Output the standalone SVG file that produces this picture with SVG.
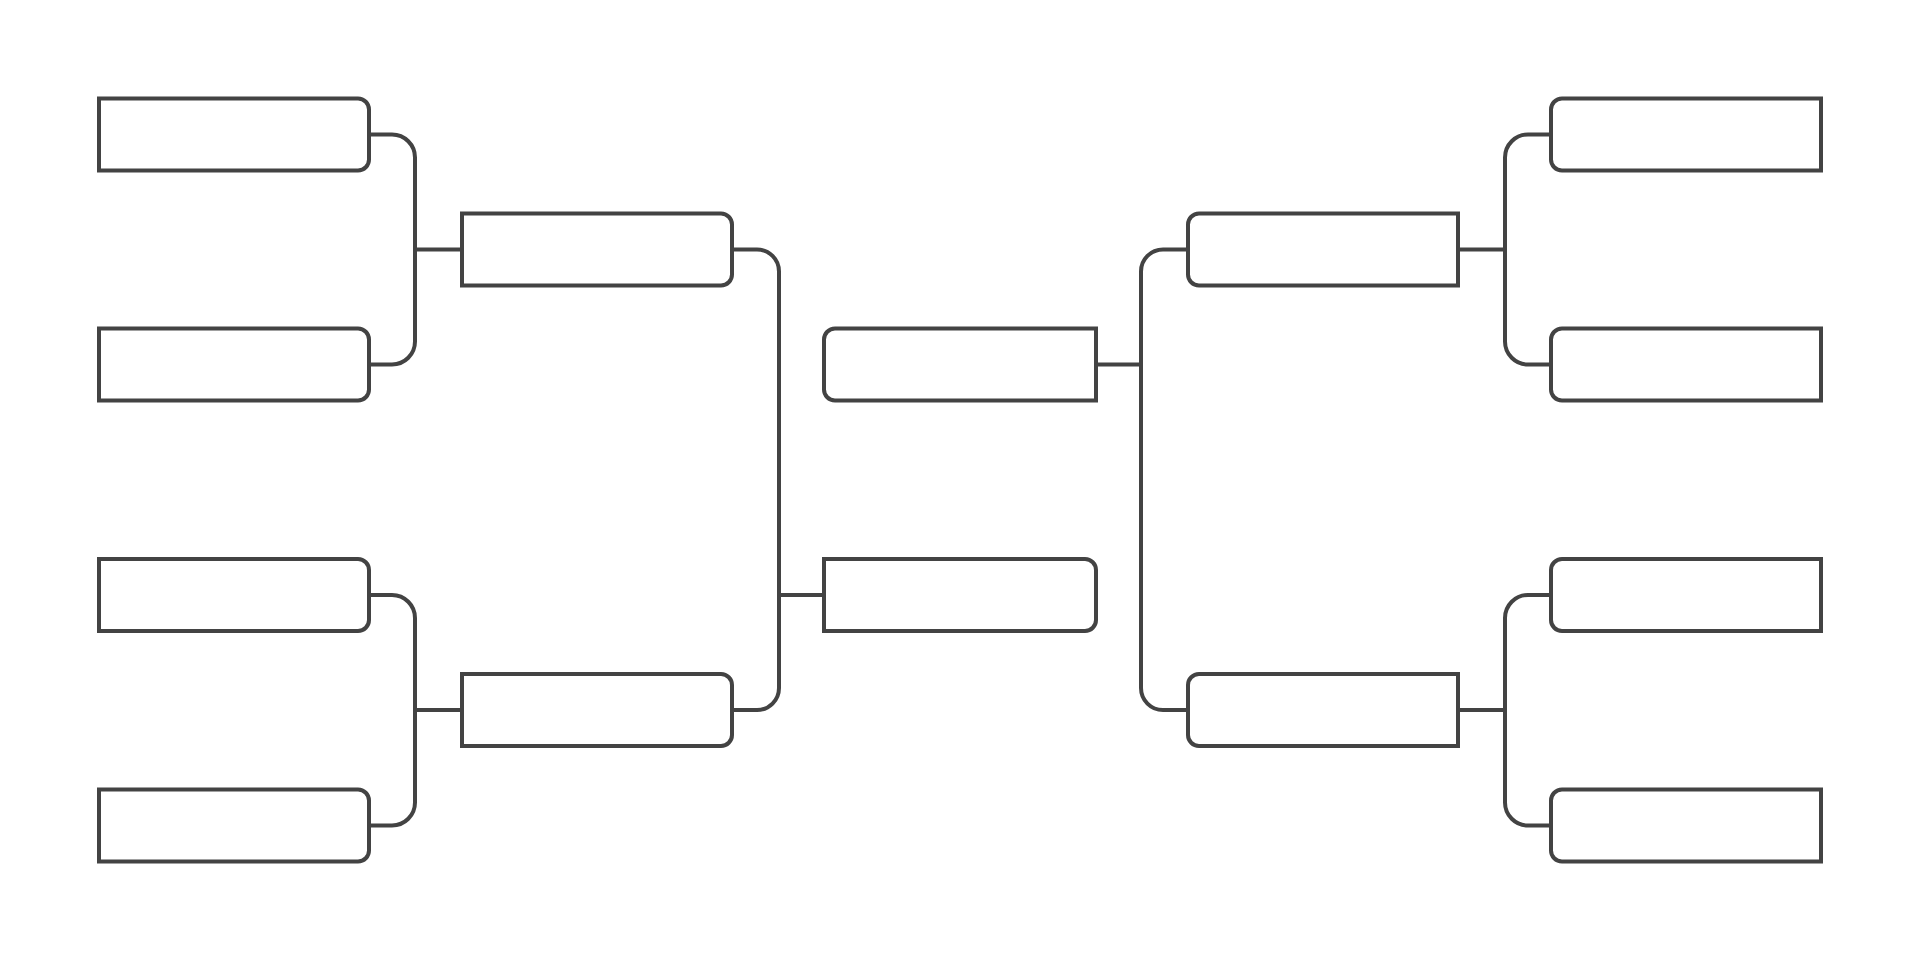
<svg xmlns="http://www.w3.org/2000/svg" width="1920" height="960" viewBox="0 0 1920 960">
<style>
.box{fill:#ffffff;stroke:#434343;stroke-width:4}
.con{fill:none;stroke:#434343;stroke-width:4}
</style>
<rect width="1920" height="960" fill="#ffffff"/>
<g id="connectors">
<path class="con" d="M369 134.5 H392 A23 23 0 0 1 415 157.5 V341.5 A23 23 0 0 1 392 364.5 H369 M415 249.5 H462"/>
<path class="con" d="M369 595 H392 A23 23 0 0 1 415 618 V802.5 A23 23 0 0 1 392 825.5 H369 M415 710 H462"/>
<path class="con" d="M732 249.5 H757 A22 22 0 0 1 779 271.5 V688 A22 22 0 0 1 757 710 H732 M779 595 H824"/>
<path class="con" d="M1188 249.5 H1163 A22 22 0 0 0 1141 271.5 V688 A22 22 0 0 0 1163 710 H1188 M1096 364.5 H1141"/>
<path class="con" d="M1551 134.5 H1528 A23 23 0 0 0 1505 157.5 V341.5 A23 23 0 0 0 1528 364.5 H1551 M1458 249.5 H1505"/>
<path class="con" d="M1551 595 H1528 A23 23 0 0 0 1505 618 V802.5 A23 23 0 0 0 1528 825.5 H1551 M1458 710 H1505"/>
</g>
<g id="l1a"><path class="box" d="M99 98.5 H358 A11 11 0 0 1 369 109.5 V159.5 A11 11 0 0 1 358 170.5 H99 Z"/></g>
<g id="l1b"><path class="box" d="M99 328.5 H358 A11 11 0 0 1 369 339.5 V389.5 A11 11 0 0 1 358 400.5 H99 Z"/></g>
<g id="l1c"><path class="box" d="M99 559 H358 A11 11 0 0 1 369 570 V620 A11 11 0 0 1 358 631 H99 Z"/></g>
<g id="l1d"><path class="box" d="M99 789.5 H358 A11 11 0 0 1 369 800.5 V850.5 A11 11 0 0 1 358 861.5 H99 Z"/></g>
<g id="l2a"><path class="box" d="M462 213.5 H721 A11 11 0 0 1 732 224.5 V274.5 A11 11 0 0 1 721 285.5 H462 Z"/></g>
<g id="l2b"><path class="box" d="M462 674 H721 A11 11 0 0 1 732 685 V735 A11 11 0 0 1 721 746 H462 Z"/></g>
<g id="finalTop"><path class="box" d="M1096 328.5 H835 A11 11 0 0 0 824 339.5 V389.5 A11 11 0 0 0 835 400.5 H1096 Z"/></g>
<g id="finalBottom"><path class="box" d="M824 559 H1085 A11 11 0 0 1 1096 570 V620 A11 11 0 0 1 1085 631 H824 Z"/></g>
<g id="r2a"><path class="box" d="M1458 213.5 H1199 A11 11 0 0 0 1188 224.5 V274.5 A11 11 0 0 0 1199 285.5 H1458 Z"/></g>
<g id="r2b"><path class="box" d="M1458 674 H1199 A11 11 0 0 0 1188 685 V735 A11 11 0 0 0 1199 746 H1458 Z"/></g>
<g id="r1a"><path class="box" d="M1821 98.5 H1562 A11 11 0 0 0 1551 109.5 V159.5 A11 11 0 0 0 1562 170.5 H1821 Z"/></g>
<g id="r1b"><path class="box" d="M1821 328.5 H1562 A11 11 0 0 0 1551 339.5 V389.5 A11 11 0 0 0 1562 400.5 H1821 Z"/></g>
<g id="r1c"><path class="box" d="M1821 559 H1562 A11 11 0 0 0 1551 570 V620 A11 11 0 0 0 1562 631 H1821 Z"/></g>
<g id="r1d"><path class="box" d="M1821 789.5 H1562 A11 11 0 0 0 1551 800.5 V850.5 A11 11 0 0 0 1562 861.5 H1821 Z"/></g>
</svg>
